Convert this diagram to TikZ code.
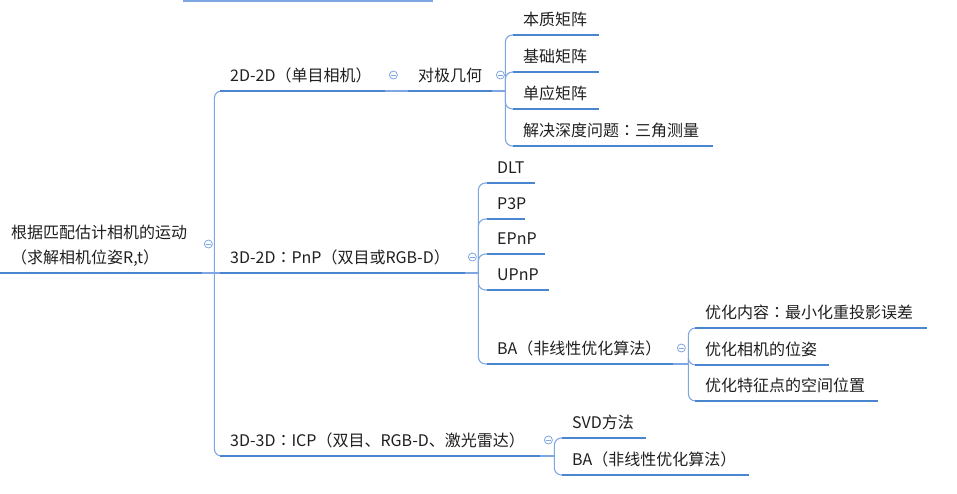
\documentclass[tikz,border=0pt]{standalone}
\usepackage{fontspec}
\setmainfont{Noto Sans CJK SC}
% centred full-width colon
\newfontfamily\tcfont{Noto Sans CJK TC}
\newcommand\fwcolon{{\tcfont ：}}
\definecolor{lineblue}{RGB}{74,134,208}
\definecolor{connblue}{RGB}{125,166,226}
\begin{document}
\begin{tikzpicture}[x=1pt,y=-1pt,
  topic/.style={anchor=south west, inner xsep=10pt, inner ysep=6pt,
    text height=13pt, text depth=3pt, align=left, text=black!88,
    font=\fontsize{16}{25}\selectfont},
  uline/.style={draw=lineblue, line width=2.8pt},
  conn/.style={draw=connblue, line width=1.1pt},
  branchline/.style={conn, rounded corners=7pt},
  fold/.style={circle, draw=connblue, line width=0.8pt, minimum size=8pt,
    inner sep=0pt, fill=white,
    path picture={\draw[connblue, line width=0.8pt]
      ([xshift=-2.3pt]path picture bounding box.center) --
      ([xshift=2.3pt]path picture bounding box.center);}}
]
\useasboundingbox (0,0) rectangle (957,493);

% fragment of a topic cut off at the top edge
\draw[draw=connblue, line width=1.6pt] (183,0.8) -- (433,0.8);

% root
\node[topic, text width=180pt, text depth=28pt, inner xsep=11pt] (root) at (0,273)
  {根据匹配估计相机的运动\\（求解相机位姿R,t）};

% first level
\node[topic, text width=145pt] (t1) at (220,91) {2D-2D（单目相机）};
\node[topic, text width=225pt] (t2) at (220,273) {3D-2D\fwcolon PnP（双目或RGB-D）};
\node[topic, text width=300pt] (t3) at (220,456) {3D-3D\fwcolon ICP（双目、RGB-D、激光雷达）};

% 2D-2D branch
\node[topic, text width=64pt] (epi) at (408,91) {对极几何};
\node[topic, text width=66pt] (e1) at (513,35) {本质矩阵};
\node[topic, text width=66pt] (e2) at (513,72) {基础矩阵};
\node[topic, text width=66pt] (e3) at (513,109) {单应矩阵};
\node[topic, text width=180pt] (e4) at (513,146) {解决深度问题\fwcolon 三角测量};

% 3D-2D branch
\node[topic, text width=28pt] (p1) at (487,183) {DLT};
\node[topic, text width=18pt] (p2) at (487,219) {P3P};
\node[topic, text width=38pt] (p3) at (487,254) {EPnP};
\node[topic, text width=42pt] (p4) at (487,290) {UPnP};
\node[topic, text width=166pt] (ba) at (487,364) {BA（非线性优化算法）};
\node[topic, text width=212pt] (b1) at (695,328) {优化内容\fwcolon 最小化重投影误差};
\node[topic, text width=114pt] (b2) at (695,365) {优化相机的位姿};
\node[topic, text width=163pt] (b3) at (695,401) {优化特征点的空间位置};

% 3D-3D branch
\node[topic, text width=64pt] (s1) at (562,438) {SVD方法};
\node[topic, text width=167pt] (s2) at (562,475) {BA（非线性优化算法）};

% junction points of the connectors
\coordinate (jr) at ([xshift=12pt]root.south east);
\coordinate (je) at ([xshift=13pt]epi.south east);
\coordinate (jp) at ([xshift=13pt]t2.south east);
\coordinate (jb) at ([xshift=15pt]ba.south east);
\coordinate (js) at ([xshift=14pt]t3.south east);

% connectors
\draw[conn] (root.south east) -- (jr) -- (t2.south west);
\draw[branchline] (jr) |- (t1.south west);
\draw[branchline] (jr) |- (t3.south west);
\draw[conn] (t1.south east) -- (epi.south west);
\draw[conn] (epi.south east) -- (je);
\foreach \c in {e1,e2,e3,e4} \draw[branchline] (je) |- (\c.south west);
\draw[conn] (t2.south east) -- (jp);
\foreach \c in {p1,p2,p3,p4,ba} \draw[branchline] (jp) |- (\c.south west);
\draw[conn] (ba.south east) -- (jb);
\foreach \c in {b1,b2,b3} \draw[branchline] (jb) |- (\c.south west);
\draw[conn] (t3.south east) -- (js);
\foreach \c in {s1,s2} \draw[branchline] (js) |- (\c.south west);

% underlines of the topics
\foreach \n in {root,t1,t2,t3,epi,e1,e2,e3,e4,p1,p2,p3,p4,ba,b1,b2,b3,s1,s2}
  \draw[uline] (\n.south west) -- (\n.south east);

% collapse markers
\node[fold] (f0) at ([shift={(6pt,29pt)}]root.south east) {};
\node[fold] (f1) at ([shift={(8pt,16pt)}]t1.south east) {};
\node[fold] (f2) at ([shift={(8pt,16pt)}]epi.south east) {};
\node[fold] (f3) at ([shift={(7pt,16pt)}]t2.south east) {};
\node[fold] (f4) at ([shift={(8pt,16pt)}]ba.south east) {};
\node[fold] (f5) at ([shift={(8pt,16pt)}]t3.south east) {};
\end{tikzpicture}
\end{document}
